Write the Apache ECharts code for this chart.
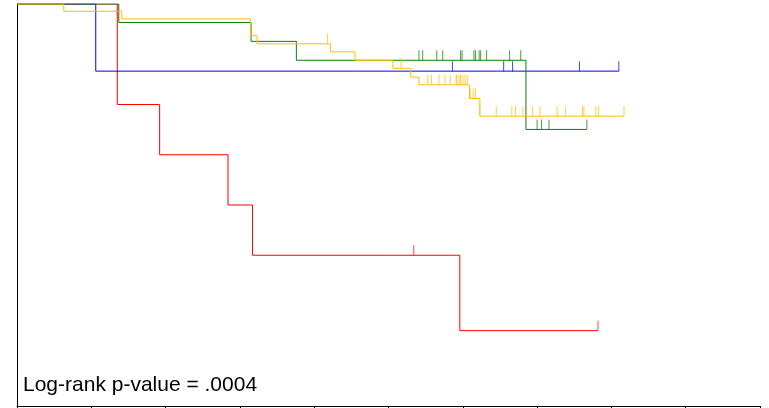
<!DOCTYPE html>
<html>
<head>
<meta charset="utf-8">
<script src="https://cdn.jsdelivr.net/npm/echarts@6/dist/echarts.min.js"></script>
<style>
  html, body { margin: 0; padding: 0; background: #fff; }
  #chart { width: 769px; height: 408px; }
</style>
</head>
<body>
<div id="chart"></div>
<script>
// survival steps: [time, survival after the drop at that time]
const redSteps = [[0, 1], [1.35, 0.75], [1.92, 0.625], [2.84, 0.5], [3.17, 0.375], [5.96, 0.1875], [7.82, 0.1875]];
const redCensor = [[5.34, 0.375], [7.82, 0.1875]];

const blueSteps = [[0, 1], [1.06, 0.833], [8.10, 0.833]];
const blueCensor = [[5.86, 0.833], [6.55, 0.833], [6.67, 0.833], [7.57, 0.833], [8.10, 0.833]];

const greenSteps = [[0, 1], [1.37, 0.954], [3.15, 0.907], [3.76, 0.86], [6.85, 0.688], [7.67, 0.688]];
const greenCensor = [
  [5.41, 0.86], [5.46, 0.86], [5.65, 0.86], [5.73, 0.86], [5.97, 0.86], [5.99, 0.86],
  [6.15, 0.86], [6.17, 0.86], [6.22, 0.86], [6.24, 0.86], [6.32, 0.86], [6.63, 0.86], [6.78, 0.86],
  [7.00, 0.688], [7.06, 0.688], [7.16, 0.688], [7.67, 0.688]
];

const orangeSteps = [[0, 1], [0.63, 0.982], [1.41, 0.963], [3.14, 0.921], [3.23, 0.901], [4.22, 0.881],
  [4.55, 0.859], [5.06, 0.84], [5.30, 0.818], [5.41, 0.799], [6.09, 0.765], [6.23, 0.721], [8.17, 0.721]];
const orangeCensor = [
  [4.18, 0.901], [5.17, 0.84],
  [5.53, 0.799], [5.58, 0.799], [5.68, 0.799], [5.76, 0.799], [5.83, 0.799], [5.91, 0.799],
  [5.92, 0.799], [5.95, 0.799], [5.97, 0.799], [6.00, 0.799], [6.03, 0.799], [6.06, 0.799],
  [6.10, 0.765], [6.14, 0.765], [6.17, 0.765],
  [6.23, 0.721], [6.45, 0.721], [6.66, 0.721], [6.71, 0.721], [6.81, 0.721], [6.94, 0.721],
  [7.04, 0.721], [7.27, 0.721], [7.38, 0.721], [7.61, 0.721], [7.63, 0.721], [7.79, 0.721],
  [7.83, 0.721], [8.17, 0.721]
];

const pText = "Log-rank p-value = .0004";

const chart = echarts.init(document.getElementById("chart"));

const stepLine = (data, color) => ({
  type: "line",
  step: "end",
  data: data,
  symbol: "none",
  lineStyle: { width: 1, color: color },
  itemStyle: { color: color },
  z: 2,
});

const censorMarks = (data, color) => ({
  type: "scatter",
  data: data,
  symbol: "rect",
  symbolSize: [1, 10],
  symbolOffset: [0, "-50%"],
  itemStyle: { color: color, opacity: 0.75 },
  z: 3,
});

chart.setOption({
  animation: false,
  grid: { left: 17, right: 9, top: 4, bottom: 2 },
  xAxis: {
    type: "value",
    min: 0,
    max: 10,
    interval: 1,
    axisLine: { show: true, lineStyle: { color: "#000", width: 1 } },
    axisTick: { show: true, length: 5, lineStyle: { color: "#000" } },
    axisLabel: { show: false },
    splitLine: { show: false },
  },
  yAxis: {
    type: "value",
    min: 0,
    max: 1,
    axisLine: { show: true, lineStyle: { color: "#000", width: 1 } },
    axisTick: { show: false },
    axisLabel: { show: false },
    splitLine: { show: false },
  },
  graphic: [
    {
      type: "text",
      left: 23,
      top: 375,
      style: {
        text: pText,
        font: "21px 'Liberation Sans', Arial, sans-serif",
        fill: "#000",
      },
    },
  ],
  series: [
    stepLine(redSteps, "#ff0000"),
    stepLine(blueSteps, "#0000ff"),
    stepLine(greenSteps, "#0a7f0a"),
    stepLine(orangeSteps, "#ffbf00"),
    censorMarks(redCensor, "#ff0000"),
    censorMarks(blueCensor, "#0000ff"),
    censorMarks(greenCensor, "#0a7f0a"),
    censorMarks(orangeCensor, "#ffbf00"),
  ],
});
</script>
</body>
</html>
